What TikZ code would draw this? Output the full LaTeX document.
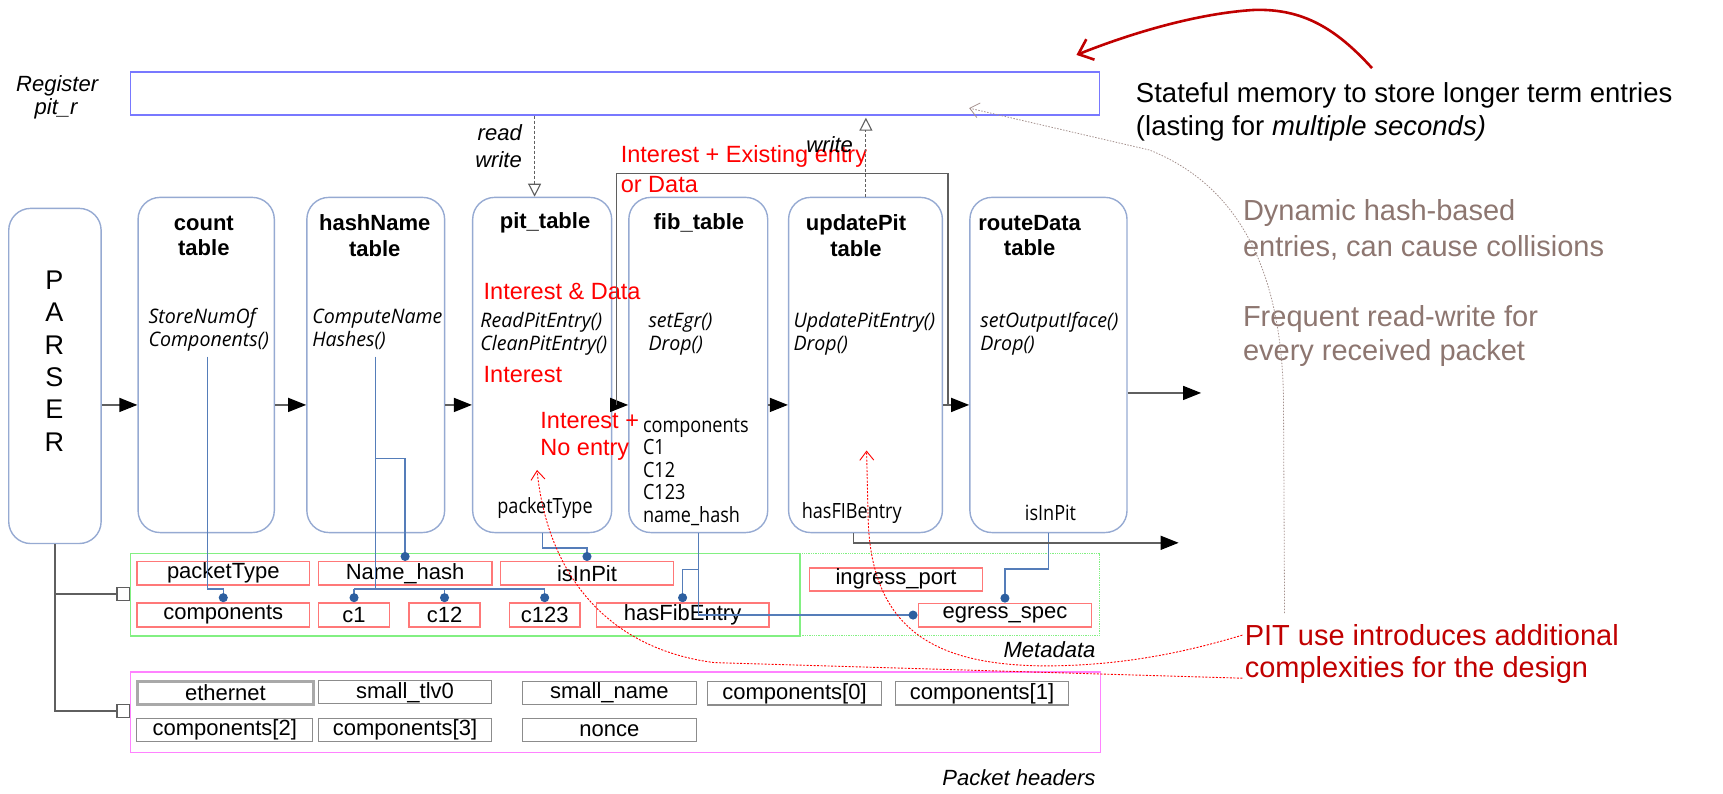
\documentclass[tikz,border=0pt]{standalone}
\usepackage{fontspec}
\setmainfont{Liberation Sans}
\newfontfamily\osfont{Open Sans}[FakeStretch=0.86]
\newfontfamily\osifont{Open Sans}[FakeStretch=0.98]
\usetikzlibrary{arrows.meta,calc}
\definecolor{tblue}{RGB}{150,170,210}
\definecolor{cblue}{RGB}{85,125,185}
\definecolor{dblue}{RGB}{45,95,160}
\definecolor{regblue}{RGB}{120,120,255}
\definecolor{mgreen}{RGB}{130,240,130}
\definecolor{hmag}{RGB}{255,130,255}
\definecolor{fred}{RGB}{255,120,120}
\definecolor{hgray}{RGB}{140,140,140}
\definecolor{darkred}{RGB}{192,0,0}
\definecolor{notegray}{RGB}{141,118,112}
\definecolor{linegray}{RGB}{95,95,95}
\definecolor{redtxt}{RGB}{255,0,0}
\def\U{1.09885pt}
\newcommand\mybox[6]{\node[#1,minimum width=#4*\U,minimum height=#5*\U] (#2) at (#3) {#6};}
\begin{document}
\begin{tikzpicture}[x=1.09885pt,y=-1.09885pt,
  tbox/.style={draw=tblue,line width=1.4pt,rounded corners=22pt,anchor=north west,inner sep=0pt},
  ttl/.style={font=\fontsize{22}{25.5}\selectfont\bfseries,align=center,inner sep=0pt},
  meth/.style={font=\osifont\itshape\fontsize{20}{23}\selectfont,anchor=west,align=left,inner sep=0pt},
  tval/.style={font=\osfont\fontsize{21}{22.5}\selectfont,inner sep=0pt},
  redt/.style={text=redtxt,font=\fontsize{23.5}{27}\selectfont,anchor=west,inner sep=0pt},
  ital/.style={font=\fontsize{22}{26}\selectfont\itshape,inner sep=0pt},
  mfield/.style={draw=fred,line width=1.5pt,fill=white,anchor=north west,inner sep=0pt,font=\fontsize{22}{26}\selectfont},
  hfield/.style={draw=hgray,line width=1.2pt,fill=white,anchor=north west,inner sep=0pt,font=\fontsize{22}{26}\selectfont},
  flow/.style={draw=linegray,line width=1.4pt,-{Triangle[length=18pt,width=14pt,color=black]}},
  gline/.style={draw=linegray,line width=1.4pt},
  conn/.style={draw=cblue,line width=1.3pt},
  dotend/.style={-{Circle[length=9pt,color=dblue]}},
  regarrow/.style={draw=linegray,line width=1.1pt,dash pattern=on 3pt off 2pt,-{Triangle[open,length=13pt,width=13pt]}},
  reddot/.style={draw=red,line width=0.9pt,dash pattern=on 2pt off 1.5pt,-{Straight Barb[length=9pt,width=14pt]}},
  graydot/.style={draw=notegray!80,line width=0.8pt,dash pattern=on 1.5pt off 1.5pt,-{Straight Barb[length=9pt,width=15pt]}},
  note/.style={font=\fontsize{27.5}{32}\selectfont,anchor=west,inner sep=0pt},
  gnote/.style={font=\fontsize{29}{35}\selectfont,text=notegray,anchor=west,inner sep=0pt},
  rnote/.style={font=\fontsize{29}{35}\selectfont,text=darkred,anchor=west,inner sep=0pt},
  sq/.style={draw=linegray,line width=1.2pt,fill=white,minimum size=11.5*\U,inner sep=0pt}
]
\useasboundingbox (0,0) rectangle (1568,721.67);

% register
\mybox{draw=regblue,line width=1.4pt,anchor=north west,inner sep=0pt}{reg}{118,65}{882}{39}{}
\node[ital] (regl1) at (52,78) {Register};
\node[ital] (regl2) at (51,99) {pit\_r};

% tables
\mybox{tbox}{parser}{7.3,189}{84.1}{305}{}
\node[font=\fontsize{27}{32.3}\selectfont,align=center,inner sep=0pt] (parsertxt) at (49.5,328.5) {P\\A\\R\\S\\E\\R};
\mybox{tbox}{count}{125,179}{124}{305}{}
\mybox{tbox}{hash}{278.6,179}{125.4}{305}{}
\mybox{tbox}{pit}{429.5,179}{126.5}{305}{}
\mybox{tbox}{fib}{571.6,179}{126.4}{305}{}
\mybox{tbox}{upd}{717,179}{140}{305}{}
\mybox{tbox}{route}{882,179}{143}{305}{}

% titles
\node[ttl] (t-count) at (185.5,214.5) {count\\table};
\node[ttl] (t-hash) at (341,214.5) {hashName\\table};
\node[ttl] (t-pit) at (496,203) {pit\_table};
\node[ttl] (t-fib) at (636,203) {fib\_table};
\node[ttl] (t-upd) at (779,214.5) {updatePit\\table};
\node[ttl] (t-route) at (937,214.5) {routeData\\table};

% actions
\node[meth] (m-count) at (135,300) {StoreNumOf\\Components()};
\node[meth] (m-hash) at (284,300) {ComputeName\\Hashes()};
\node[meth] (m-pit) at (437,304) {ReadPitEntry()\\CleanPitEntry()};
\node[meth] (m-fib) at (590,304) {setEgr()\\Drop()};
\node[meth] (m-upd) at (722,304) {UpdatePitEntry()\\Drop()};
\node[meth] (m-route) at (892,304) {setOutputIface()\\Drop()};

% keys
\node[tval] (k-pit) at (496,462) {packetType};
\node[tval,anchor=west,align=left] (k-fib) at (585,429.6) {components\\C1\\C12\\C123\\name\_hash};
\node[tval,anchor=west] (k-upd) at (729.5,467) {hasFIBentry};
\node[tval] (k-route) at (956,467) {isInPit};

% red annotations
\node[redt] (r1) at (440,265) {Interest \& Data};
\node[redt] (r2) at (440,341) {Interest};
\node[redt] (r3) at (491.6,383) {Interest +};
\node[redt] (r4) at (491.6,409.5) {No entry};
\node[redt] (r5) at (564.8,142.6) {Interest + Existing entry};
\node[redt] (r6) at (564.8,168) {or Data};

% pipeline arrows
\coordinate (ay) at (0,368.5);
\draw[flow] (parser.east |- ay) -- (count.west |- ay);
\draw[flow] (count.east |- ay) -- (hash.west |- ay);
\draw[flow] (hash.east |- ay) -- (pit.west |- ay);
\draw[flow] (pit.east |- ay) -- (fib.west |- ay);
\draw[flow] (fib.east |- ay) -- (upd.west |- ay);
\draw[flow] (upd.east |- ay) -- (route.west |- ay);
\coordinate (routeout) at (1093,357.6);
\draw[flow] (route.east |- routeout) -- (routeout);
% bypass
\coordinate (byp1) at (561,368.5);
\coordinate (byp2) at (862.8,368.5);
\coordinate (bytop) at (0,158);
\draw[gline] (byp1) -- (byp1 |- bytop) -- (byp2 |- bytop) -- (byp2);

% register access
\coordinate (rx) at (486.5,0);
\coordinate (wx) at (788,0);
\draw[regarrow] (reg.south -| rx) -- (pit.north -| rx);
\draw[regarrow,shorten >=2pt] (upd.north -| wx) -- (reg.south -| wx);
\node[ital,anchor=east] (lread) at (475,121) {read};
\node[ital,anchor=east] (lwrite) at (475,145) {write};
\node[ital] (lwrite2) at (755,132) {write};

% metadata
\mybox{draw=mgreen,line width=1.5pt,anchor=north west,inner sep=0pt}{meta}{118,503}{609.5}{75}{}
\mybox{draw=mgreen,line width=1.3pt,densely dotted,anchor=north west,inner sep=0pt}{meta2}{727.5,503}{272.5}{75}{}
\node[ital,anchor=east] (lmeta) at (997,591.5) {Metadata};
\mybox{mfield}{f-ptype}{124,510.5}{157}{21}{packetType}
\mybox{mfield}{f-nhash}{289,510.5}{158}{21}{Name\_hash}
\mybox{mfield}{f-isinpit}{455,510.5}{157}{21}{isInPit}
\mybox{mfield}{f-comp}{124,548}{157}{22}{components}
\mybox{mfield}{f-c1}{289,548}{65}{22}{c1}
\mybox{mfield}{f-c12}{371.7,548}{64.3}{22}{c12}
\mybox{mfield}{f-c123}{463,548}{64}{22}{c123}
\mybox{mfield}{f-hasfib}{542,548}{157}{22}{hasFibEntry}
\mybox{mfield}{f-ingress}{736,516}{157.5}{21}{ingress\_port}
\mybox{mfield}{f-egress}{835,548.4}{157.7}{21.3}{egress\_spec}

% packet headers
\mybox{draw=hmag,line width=1.5pt,anchor=north west,inner sep=0pt}{hdr}{118,611}{883}{73}{}
\node[ital,anchor=east] (lhdr) at (997,708) {Packet headers};
\mybox{hfield,line width=2.6pt,draw=hgray!75}{h-eth}{124,619}{160}{21}{ethernet}
\mybox{hfield}{h-tlv}{289,619}{158}{21}{small\_tlv0}
\mybox{hfield}{h-name}{475,619.5}{158}{21}{small\_name}
\mybox{hfield}{h-c0}{643,620}{159}{21}{components[0]}
\mybox{hfield}{h-c1}{814.5,620}{157.3}{21}{components[1]}
\mybox{hfield}{h-c2}{124,653.5}{160}{21}{components[2]}
\mybox{hfield}{h-c3}{289,653.5}{158}{21}{components[3]}
\mybox{hfield}{h-nonce}{475,653.5}{158}{21}{nonce}

% parser to metadata / headers
\node[sq] (msq) at (112.2,540.5) {};
\node[sq] (hsq) at (112.2,647) {};
\draw[gline,line width=1.2pt] (parser.south) |- (msq.west);
\draw[gline,line width=1.2pt] (parser.south) |- (hsq.west);

% blue connectors
\coordinate (y536) at (0,536);
\coordinate (y417) at (0,417);
\coordinate (s-count) at (189,324.5);
\coordinate (s-hash) at (342,324.5);
\draw[conn,dotend] (s-count) |- (f-comp.north |- y536) -- (f-comp.north);
\draw[conn] (s-hash) |- (f-c123.north |- y536);
\draw[conn] (f-c1.north |- y536) -- (s-hash |- y536);
\draw[conn,dotend] (f-c1.north |- y536) -- (f-c1.north);
\draw[conn,dotend] (f-c12.north |- y536) -- (f-c12.north);
\draw[conn,dotend] (f-c123.north |- y536) -- (f-c123.north);
\draw[conn,dotend] (s-hash |- y417) -| (f-nhash.north);
\draw[conn,dotend] (pit.south) -- ++(0,13.5) -| (f-isinpit.north);
\draw[conn,dotend] (fib.south) |- (f-egress.west);
\draw[conn,dotend] (fib.south) ++(0,33) -| (f-hasfib.north);
\draw[conn,dotend] (route.south) -- ++(0,32.5) -| (f-egress.north);
\coordinate (outend) at (1072.6,494);
\draw[flow] ($(upd.south)+(-11,0)$) |- (outend);

% notes
\node[note] (st1) at (1033.6,86.5) {Stateful memory to store longer term entries};
\node[note] (st2) at (1033.6,116.7) {(lasting for \textit{multiple seconds)}};
\node[gnote] (dy1) at (1131,194) {Dynamic hash-based};
\node[gnote] (dy2) at (1131,226) {entries, can cause collisions};
\node[gnote] (fr1) at (1131,290) {Frequent read-write for};
\node[gnote] (fr2) at (1131,321.6) {every received packet};
\node[rnote] (pit1) at (1132.6,578) {PIT use introduces additional};
\node[rnote] (pit2) at (1132.6,609.7) {complexities for the design};

% note connectors
\coordinate (rc0) at (1248.6,62);
\coordinate (rc1) at (979.6,50);
\draw[draw=darkred,line width=2.6pt,-{Straight Barb[length=13pt,width=22pt]}] (rc0) .. controls (1215,25) and (1185,8) .. (1142,9) .. controls (1090,12) and (1030,30) .. (rc1);
\coordinate (tipA) at (488.7,427.7);
\coordinate (tipB) at (788.6,410);
\draw[reddot] ($(pit2.south west)+(-2,-5)$) -- (650,603) .. controls (550,590) and (498,520) .. (tipA);
\draw[reddot] ($(pit1.west)+(-2,0)$) .. controls (1090,590) and (1030,606) .. (950,606) .. controls (860,605) and (792,580) .. (790,470) -- (tipB);
\coordinate (g0) at (1169,558);
\coordinate (gtip) at (882,98.4);
\draw[graydot] (g0) -- (1168,361) .. controls (1166,250) and (1130,170) .. (1046,136.5) -- (gtip);
\end{tikzpicture}
\end{document}
